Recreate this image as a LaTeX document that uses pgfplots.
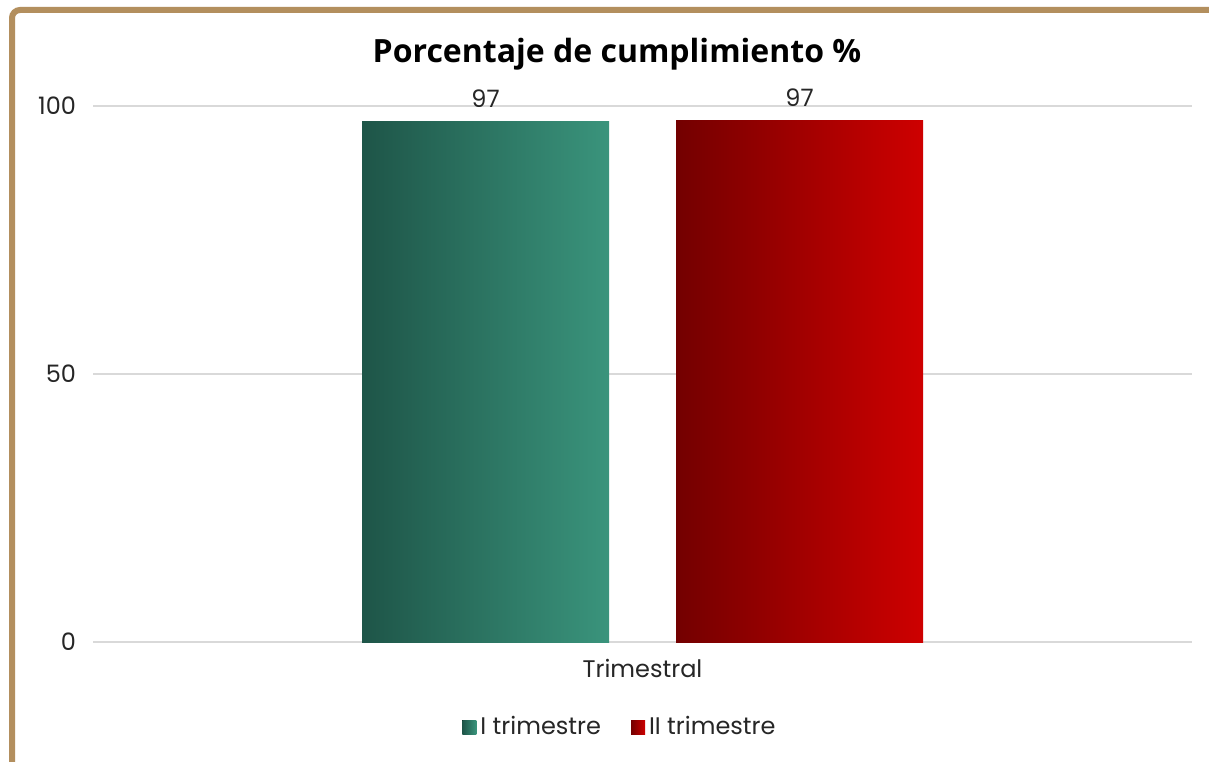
\documentclass[border=0pt]{standalone}
\usepackage{pgfplots}
\pgfplotsset{compat=1.18}
\usepackage{fontspec}
\setmainfont{Poppins}
\newfontfamily\titlefont{Open Sans}
\definecolor{frame}{RGB}{179,143,94}
\definecolor{gA}{RGB}{30,85,72}
\definecolor{gB}{RGB}{58,148,124}
\definecolor{rA}{RGB}{115,0,0}
\definecolor{rB}{RGB}{206,0,0}
\definecolor{gridc}{RGB}{217,217,217}
\definecolor{txt}{RGB}{38,38,38}
\begin{document}
\begin{tikzpicture}
\useasboundingbox (0,0) rectangle (604.5pt,380.5pt);
\clip (0,0) rectangle (604.5pt,380.5pt);
\fill[white] (0,0) rectangle (604.5pt,380.5pt);
\draw[frame, line width=3pt, rounded corners=4pt] (6pt,-20pt) rectangle (640pt,375.5pt);
\node[anchor=base, font=\titlefont\bfseries\fontsize{16}{19}\selectfont] at (308.5pt,349pt) {Porcentaje de cumplimiento \%};
\begin{axis}[
  at={(46.5pt,59.5pt)}, anchor=south west,
  scale only axis, width=549.5pt, height=268pt,
  ymin=0, ymax=100, xmin=-1, xmax=1,
  ytick={0,50,100}, xtick={0}, xticklabels={Trimestral},
  ymajorgrids, grid style={gridc, line width=0.8pt},
  axis line style={draw=none}, major tick length=0pt,
  tick label style={font=\fontsize{12}{14}\selectfont, text=txt},
  /pgf/number format/assume math mode=true,
  yticklabel style={xshift=-5pt},
  xticklabel style={yshift=-5pt},
  ybar=33.5pt, bar width=123.5pt,
  nodes near coords,
  nodes near coords style={font=\fontsize{12}{14}\selectfont, text=txt, anchor=base, yshift=7pt, /pgf/number format/precision=0, /pgf/number format/fixed},
  legend columns=2,
  legend style={at={(0.4804,-0.1586)}, anchor=center, draw=none, fill=none, font=\fontsize{12}{14}\selectfont, text=txt, /tikz/every even column/.append style={column sep=13pt}},
  legend cell align=left,
]
\addplot[draw=none, left color=gA, right color=gB,
  legend image code/.code={\fill[left color=gA, right color=gB] (0pt,-3.5pt) rectangle (7pt,3.5pt);}]
  coordinates {(0,97.1)};
\addlegendentry{I trimestre}
\addplot[draw=none, left color=rA, right color=rB,
  legend image code/.code={\fill[left color=rA, right color=rB] (0pt,-3.5pt) rectangle (7pt,3.5pt);}]
  coordinates {(0,97.3)};
\addlegendentry{II trimestre}
\end{axis}
\end{tikzpicture}
\end{document}
